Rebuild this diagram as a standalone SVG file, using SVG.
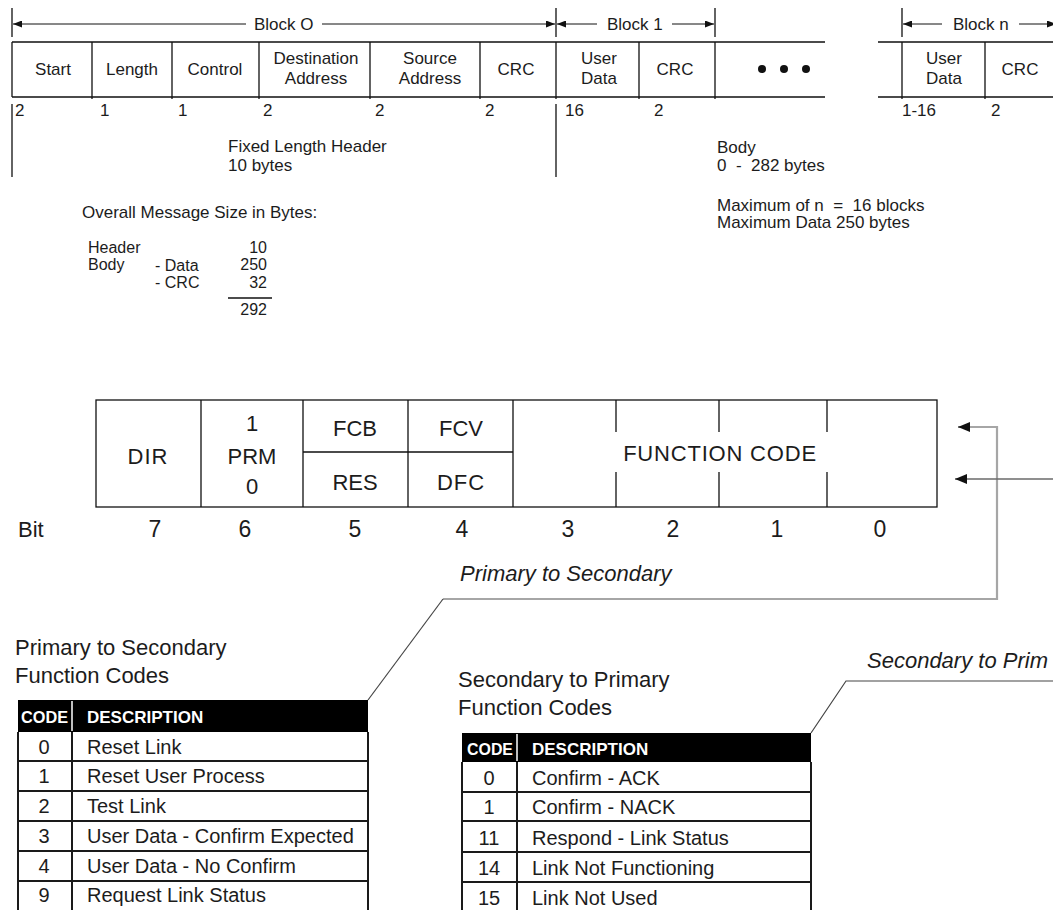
<svg xmlns="http://www.w3.org/2000/svg" width="1053" height="910" viewBox="0 0 1053 910">
<defs>
<marker id="ah" viewBox="0 0 9 7" refX="9" refY="3.5" markerWidth="9" markerHeight="7" orient="auto" markerUnits="userSpaceOnUse"><path d="M0,0 L9,3.5 L0,7 z" fill="#111"/></marker>
<marker id="ahb" viewBox="0 0 12 10" refX="12" refY="5" markerWidth="12" markerHeight="10" orient="auto" markerUnits="userSpaceOnUse"><path d="M0,0 L12,5 L0,10 z" fill="#111"/></marker>
</defs>
<style>
text { font-family: "Liberation Sans", Arial, Helvetica, sans-serif; fill: #1c1c1c; }
.f17 { font-size: 17px; }
.f16 { font-size: 16px; }
.f20 { font-size: 20px; }
.f22 { font-size: 22px; }
.f23 { font-size: 23px; }
.it { font-size: 22px; font-style: italic; }
.mid { text-anchor: middle; }
.end { text-anchor: end; }
.pre { white-space: pre; }
.hd { font-size: 17px; font-weight: bold; fill: #fff; }
.ln { stroke: #111; stroke-width: 1.3; fill: none; }
.tl { stroke: #1a1a1a; stroke-width: 2; fill: none; }
.ar { stroke: #111; stroke-width: 1; fill: none; }
.gray { stroke: #a6a6a6; stroke-width: 2.2; fill: none; }
.thin { stroke: #444; stroke-width: 1.2; fill: none; }
</style>

<g id="block-ranges">
  <path class="ln" d="M12,8 V37 M556,8 V37 M715,8 V37 M902,8 V37"/>
  <line class="ar" x1="246" y1="24" x2="13" y2="24" marker-end="url(#ah)"/>
  <line class="ar" x1="322" y1="24" x2="555" y2="24" marker-end="url(#ah)"/>
  <text class="f17" x="254" y="30">Block O</text>
  <line class="ar" x1="597" y1="24" x2="557" y2="24" marker-end="url(#ah)"/>
  <line class="ar" x1="672" y1="24" x2="714" y2="24" marker-end="url(#ah)"/>
  <text class="f17" x="607" y="30">Block 1</text>
  <line class="ar" x1="942" y1="24" x2="903" y2="24" marker-end="url(#ah)"/>
  <line class="ar" x1="1019" y1="24" x2="1056" y2="24" marker-end="url(#ah)"/>
  <text class="f17" x="953" y="30">Block n</text>
</g>

<g id="frame-fields">
  <path class="ln" d="M12,42 H825 M12,97 H825 M12,42 V97 M92,42 V99 M172,42 V99 M259,42 V99 M370,42 V99 M480,42 V99 M556,42 V99 M639,42 V99 M715,42 V99"/>
  <path class="ln" d="M878,42 H1053 M878,97 H1053 M902,42 V99 M985,42 V99"/>
  <g id="f-start"><text class="f17 mid" x="53" y="75">Start</text><text class="f17" x="15" y="116">2</text></g>
  <g id="f-length"><text class="f17 mid" x="132" y="75">Length</text><text class="f17" x="100" y="116">1</text></g>
  <g id="f-control"><text class="f17 mid" x="215" y="75">Control</text><text class="f17" x="178" y="116">1</text></g>
  <g id="f-dest"><text class="f17 mid" x="316" y="64">Destination</text><text class="f17 mid" x="316" y="84">Address</text><text class="f17" x="263" y="116">2</text></g>
  <g id="f-source"><text class="f17 mid" x="430" y="64">Source</text><text class="f17 mid" x="430" y="84">Address</text><text class="f17" x="375" y="116">2</text></g>
  <g id="f-crc0"><text class="f17 mid" x="516" y="75">CRC</text><text class="f17" x="485" y="116">2</text></g>
  <g id="f-ud1"><text class="f17 mid" x="599" y="64">User</text><text class="f17 mid" x="599" y="84">Data</text><text class="f17" x="565" y="116">16</text></g>
  <g id="f-crc1"><text class="f17 mid" x="675" y="75">CRC</text><text class="f17" x="654" y="116">2</text></g>
  <g id="f-dots"><circle cx="762" cy="69" r="4" fill="#111"/><circle cx="784" cy="69" r="4" fill="#111"/><circle cx="806" cy="69" r="4" fill="#111"/></g>
  <g id="f-udn"><text class="f17 mid" x="944" y="64">User</text><text class="f17 mid" x="944" y="84">Data</text><text class="f17" x="902" y="116">1-16</text></g>
  <g id="f-crcn"><text class="f17 mid" x="1020" y="75">CRC</text><text class="f17" x="991" y="116">2</text></g>
</g>

<g id="sections">
  <path class="ln" d="M12,104 V177 M556,104 V177"/>
  <text class="f17" x="228" y="152">Fixed Length Header</text>
  <text class="f17" x="228" y="171">10 bytes</text>
  <text class="f17" x="717" y="153">Body</text>
  <text class="f17 pre" x="717" y="171" xml:space="preserve">0  -  282 bytes</text>
  <text class="f17 pre" x="717" y="211" xml:space="preserve">Maximum of n  =  16 blocks</text>
  <text class="f17" x="717" y="228">Maximum Data 250 bytes</text>
</g>

<g id="message-size">
  <text class="f17" x="82" y="218">Overall Message Size in Bytes:</text>
  <text class="f16" x="88" y="253">Header</text>
  <text class="f16" x="88" y="270">Body</text>
  <text class="f16" x="155" y="271">- Data</text>
  <text class="f16" x="155" y="288">- CRC</text>
  <text class="f16 end" x="267" y="253">10</text>
  <text class="f16 end" x="267" y="270">250</text>
  <text class="f16 end" x="267" y="288">32</text>
  <line class="ln" x1="228" y1="298" x2="272" y2="298"/>
  <text class="f16 end" x="267" y="315">292</text>
</g>

<g id="control-byte">
  <rect class="ln" x="96" y="400" width="841" height="107"/>
  <path class="ln" d="M201,400 V507 M303,400 V507 M408,400 V507 M513,400 V507 M303,452 H513"/>
  <path class="ln" d="M616,400 V432 M719,400 V432 M827,400 V432 M616,472 V507 M719,472 V507 M827,472 V507"/>
  <text class="f22 mid" x="148" y="464" letter-spacing="1">DIR</text>
  <text class="f22 mid" x="252" y="431">1</text>
  <text class="f22 mid" x="252" y="464">PRM</text>
  <text class="f22 mid" x="252" y="494">0</text>
  <text class="f22 mid" x="355" y="436">FCB</text>
  <text class="f22 mid" x="355" y="490">RES</text>
  <text class="f22 mid" x="461" y="436">FCV</text>
  <text class="f22 mid" x="461" y="490" letter-spacing="1">DFC</text>
  <text class="f22 mid" x="720" y="461" letter-spacing="0.8">FUNCTION CODE</text>
</g>

<g id="bit-numbers">
  <text class="f22" x="18" y="537">Bit</text>
  <text class="f23 mid" x="155" y="537">7</text>
  <text class="f23 mid" x="245" y="537">6</text>
  <text class="f23 mid" x="355" y="537">5</text>
  <text class="f23 mid" x="462" y="537">4</text>
  <text class="f23 mid" x="568" y="537">3</text>
  <text class="f23 mid" x="673" y="537">2</text>
  <text class="f23 mid" x="777" y="537">1</text>
  <text class="f23 mid" x="880" y="537">0</text>
</g>

<g id="label-p2s"><text class="it" x="460" y="581">Primary to Secondary</text></g>
<g id="label-s2p"><text class="it" x="867" y="668">Secondary to Prim</text></g>

<g id="connectors">
  <polyline class="gray" points="443,599 997,599 997,427 968,427"/>
  <line class="ar" x1="970" y1="427" x2="958" y2="427" marker-end="url(#ahb)"/>
  <line x1="1053" y1="479" x2="955" y2="479" stroke="#6a6a6a" stroke-width="1.6" marker-end="url(#ahb)"/>
  <line class="thin" x1="443" y1="599" x2="368" y2="700"/>
  <polyline class="thin" points="811,733 846,681 1053,681"/>
</g>

<g id="table-p2s">
  <text class="f22" x="15" y="655">Primary to Secondary</text>
  <text class="f22" x="15" y="683">Function Codes</text>
  <rect x="18" y="700" width="350" height="32" fill="#000"/>
  <line x1="72" y1="701" x2="72" y2="731" stroke="#fff" stroke-width="1.5"/>
  <text class="hd" x="21" y="723" textLength="47" lengthAdjust="spacingAndGlyphs">CODE</text>
  <text class="hd" x="87" y="723">DESCRIPTION</text>
  <path class="tl" d="M18,732 V910 M72,732 V910 M368,732 V910 M18,761 H368 M18,791 H368 M18,821 H368 M18,851 H368 M18,881 H368"/>
  <text class="f20 mid" x="44" y="754">0</text><text class="f20" x="87" y="754">Reset Link</text>
  <text class="f20 mid" x="44" y="783">1</text><text class="f20" x="87" y="783">Reset User Process</text>
  <text class="f20 mid" x="44" y="813">2</text><text class="f20" x="87" y="813">Test Link</text>
  <text class="f20 mid" x="44" y="843">3</text><text class="f20" x="87" y="843">User Data - Confirm Expected</text>
  <text class="f20 mid" x="44" y="873">4</text><text class="f20" x="87" y="873">User Data - No Confirm</text>
  <text class="f20 mid" x="44" y="902">9</text><text class="f20" x="87" y="902">Request Link Status</text>
</g>

<g id="table-s2p">
  <text class="f22" x="458" y="687">Secondary to Primary</text>
  <text class="f22" x="458" y="715">Function Codes</text>
  <rect x="462" y="733" width="349" height="29" fill="#000"/>
  <line x1="517" y1="734" x2="517" y2="761" stroke="#fff" stroke-width="1.5"/>
  <text class="hd" x="467" y="755" textLength="46" lengthAdjust="spacingAndGlyphs">CODE</text>
  <text class="hd" x="532" y="755">DESCRIPTION</text>
  <path class="tl" d="M462,762 V910 M517,762 V910 M811,762 V910 M462,792 H811 M462,821 H811 M462,852 H811 M462,882 H811"/>
  <text class="f20 mid" x="489" y="785">0</text><text class="f20" x="532" y="785">Confirm - ACK</text>
  <text class="f20 mid" x="489" y="814">1</text><text class="f20" x="532" y="814">Confirm - NACK</text>
  <text class="f20 mid" x="489" y="845">11</text><text class="f20" x="532" y="845">Respond - Link Status</text>
  <text class="f20 mid" x="489" y="875">14</text><text class="f20" x="532" y="875">Link Not Functioning</text>
  <text class="f20 mid" x="489" y="905">15</text><text class="f20" x="532" y="905">Link Not Used</text>
</g>
</svg>
